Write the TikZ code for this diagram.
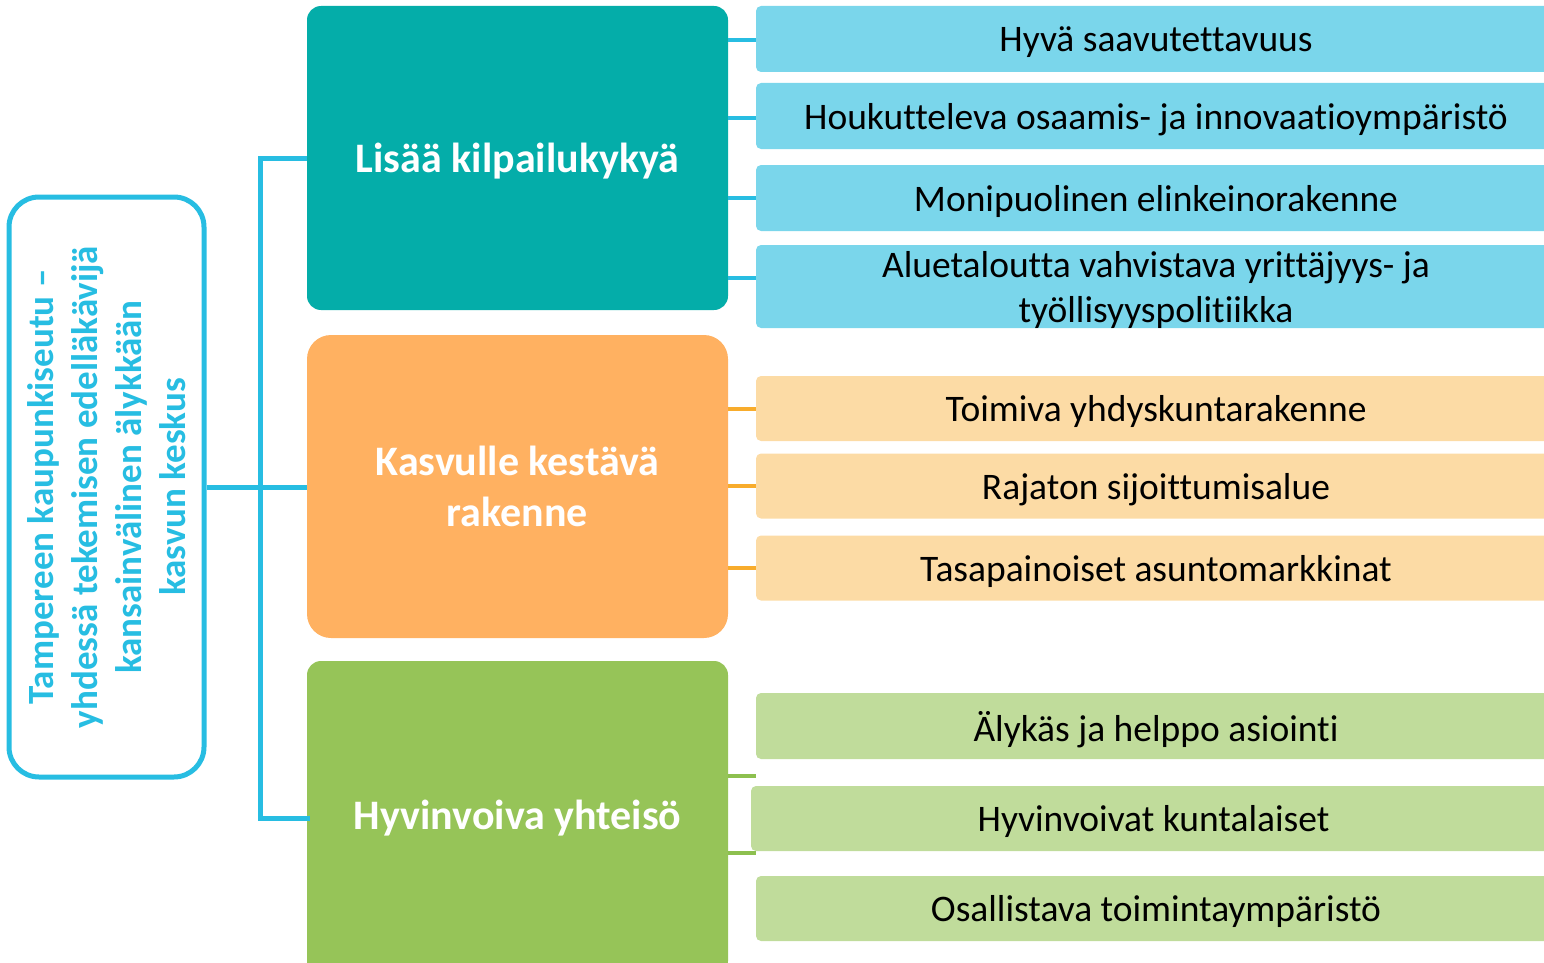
\documentclass[tikz,border=0pt]{standalone}
\usepackage{fontspec}
\setmainfont{Carlito}[Ligatures=NoCommon]
\definecolor{teal1}{RGB}{4,173,169}
\definecolor{orange1}{RGB}{255,177,97}
\definecolor{green1}{RGB}{150,196,88}
\definecolor{lblue}{RGB}{122,214,235}
\definecolor{lorange}{RGB}{252,219,165}
\definecolor{lgreen}{RGB}{192,220,155}
\definecolor{cyan1}{RGB}{39,189,226}
\definecolor{oline}{RGB}{248,172,44}
\definecolor{gline}{RGB}{141,192,79}
\tikzset{
  mainbox/.style={rectangle, rounded corners=14pt, minimum width=421pt, text=white, font=\fontsize{42}{51}\selectfont\bfseries, align=center, inner sep=0pt},
  subbox/.style={rectangle, rounded corners=5pt, minimum width=800pt, text=black, font=\fontsize{37.5}{45}\selectfont, align=center, inner sep=0pt, text depth=0pt},
  trunk/.style={draw=cyan1, line width=5pt},
  bconn/.style={draw=cyan1, line width=4pt},
  oconn/.style={draw=oline, line width=4pt},
  gconn/.style={draw=gline, line width=4pt},
}
\begin{document}
\begin{tikzpicture}[x=1pt,y=-1pt]
\useasboundingbox (0,0) rectangle (1544,963);
\clip (0,0) rectangle (1544,963);
% main boxes
\node[mainbox, fill=teal1, minimum height=304pt, text depth=0pt] (teal) at (517.5,158) {Lisää kilpailukykyä};
\node[mainbox, fill=orange1, minimum height=303pt, rounded corners=24pt] (orange) at (517.5,486.5) {Kasvulle kestävä\\rakenne};
\node[mainbox, fill=green1, minimum height=314pt] (green) at (517.5,818) {Hyvinvoiva yhteisö};
% left box
\node[rectangle, draw=cyan1, line width=5pt, rounded corners=30pt, minimum width=195pt, minimum height=580pt, fill=white] (lbox) at (106.5,487) {};
\node[rotate=90, text=cyan1, font=\fontsize{37}{44}\selectfont\bfseries, align=center] (ltext) at (lbox.center) {Tampereen kaupunkiseutu --\\yhdessä tekemisen edelläkävijä\\kansainvälinen älykkään\\kasvun keskus};
% sub boxes
\node[subbox, fill=lblue, minimum height=66pt] (b1) at (1156,39) {Hyvä saavutettavuus};
\node[subbox, fill=lblue, minimum height=66pt] (b2) at (1156,116) {Houkutteleva osaamis- ja innovaatioympäristö};
\node[subbox, fill=lblue, minimum height=66pt] (b3) at (1156,198) {Monipuolinen elinkeinorakenne};
\node[subbox, fill=lblue, minimum height=83pt] (b4) at (1156,286.5) {Aluetaloutta vahvistava yrittäjyys- ja\\työllisyyspolitiikka};
\node[subbox, fill=lorange, minimum height=65pt] (o1) at (1156,408.5) {Toimiva yhdyskuntarakenne};
\node[subbox, fill=lorange, minimum height=65pt] (o2) at (1156,486) {Rajaton sijoittumisalue};
\node[subbox, fill=lorange, minimum height=65pt] (o3) at (1156,568) {Tasapainoiset asuntomarkkinat};
\node[subbox, fill=lgreen, minimum height=66pt] (g1) at (1156,726) {Älykäs ja helppo asiointi};
\node[subbox, fill=lgreen, minimum height=65pt, minimum width=805pt] (g2) at (1153.5,818.5) {Hyvinvoivat kuntalaiset};
\node[subbox, fill=lgreen, minimum height=65pt] (g3) at (1156,908.5) {Osallistava toimintaympäristö};
% trunk
\coordinate (tx) at (260,0);
\draw[trunk] (teal.west) -| (tx |- green.west) -- ([xshift=3pt]green.west);
\draw[trunk] (lbox.east) -- (lbox.east -| orange.west);
% blue connectors
\draw[bconn] (teal.east |- 0,40) -- (b1.west |- 0,40);
\draw[bconn] (teal.east |- 0,118) -- (b2.west |- 0,118);
\draw[bconn] (teal.east |- 0,198) -- (b3.west |- 0,198);
\draw[bconn] (teal.east |- 0,278) -- (b4.west |- 0,278);
% orange connectors
\draw[oconn] (orange.east |- o1.west) -- (o1.west);
\draw[oconn] (orange.east |- o2.west) -- (o2.west);
\draw[oconn] (orange.east |- o3.west) -- (o3.west);
% green connectors
\coordinate (gc1) at (756,776);
\coordinate (gc2) at (756,853);
\draw[gconn] (green.east |- gc1) -- (gc1);
\draw[gconn] (green.east |- gc2) -- (gc2);
\end{tikzpicture}
\end{document}
